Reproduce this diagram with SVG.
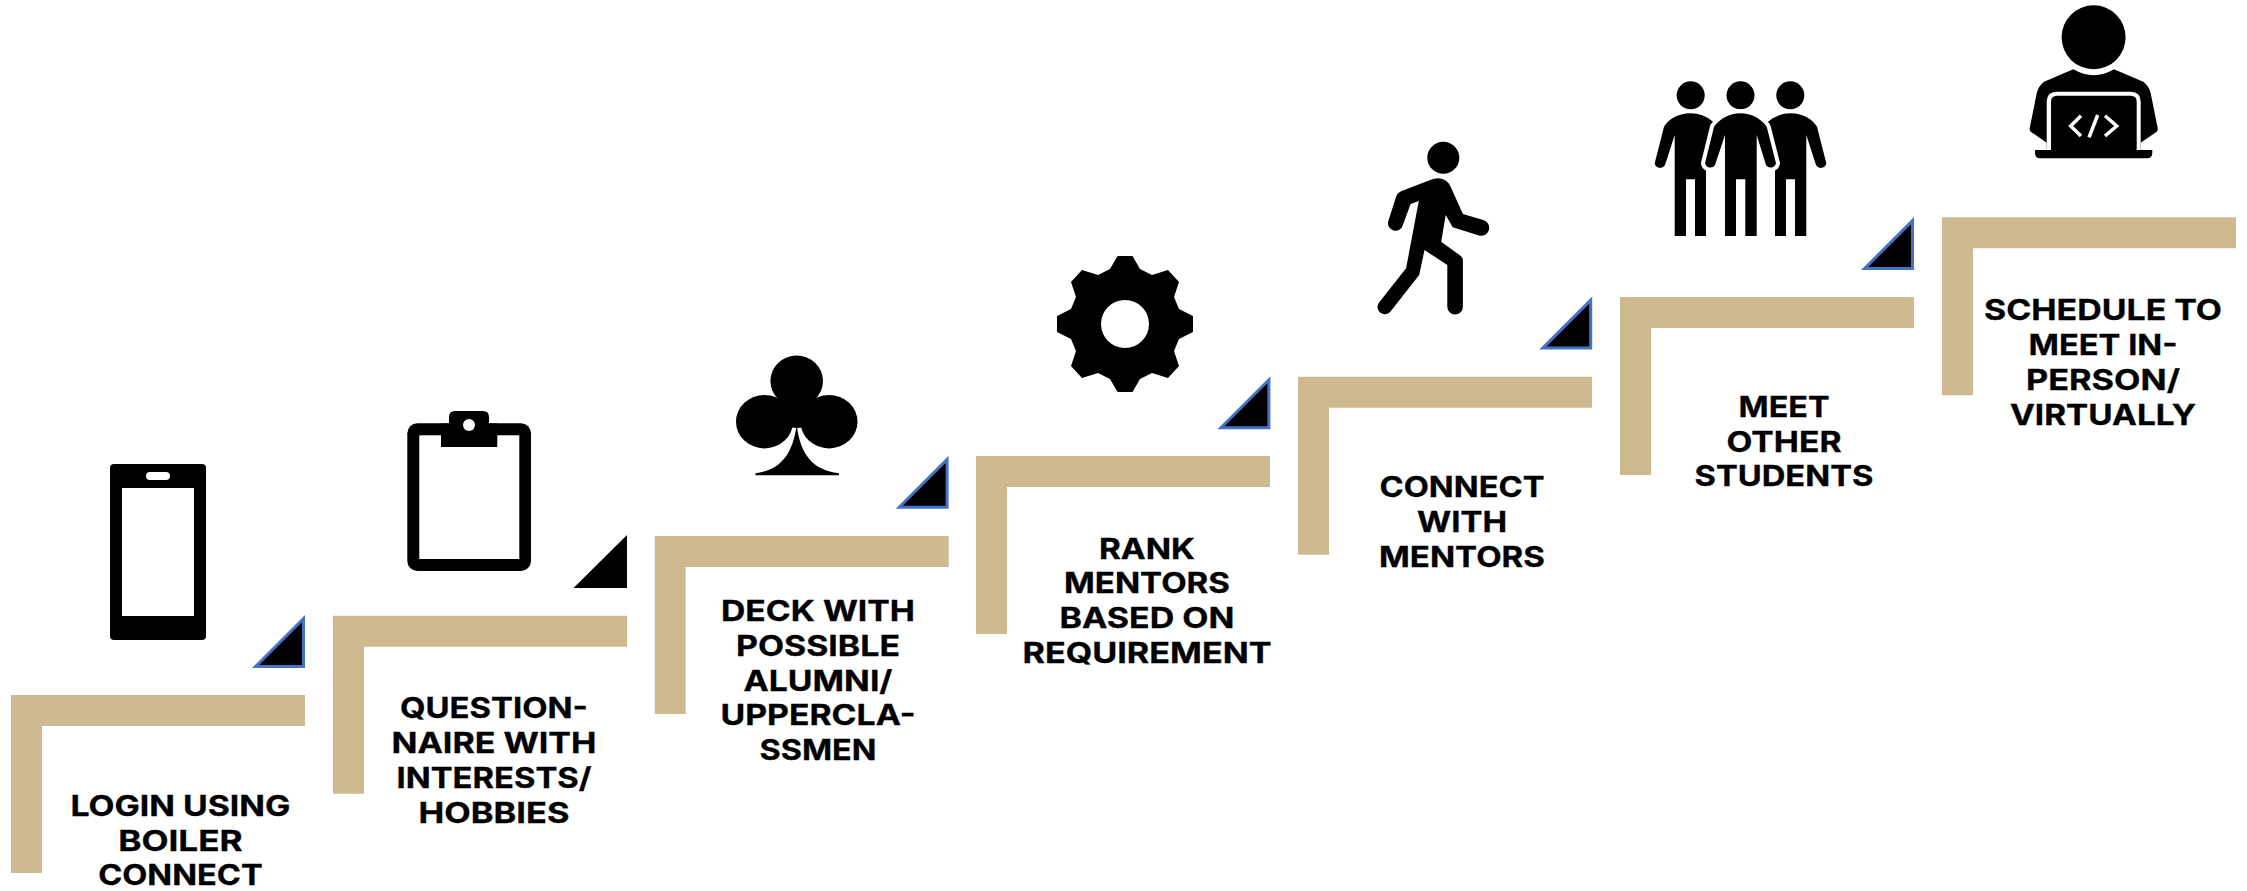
<svg xmlns="http://www.w3.org/2000/svg" width="2247" height="891" viewBox="0 0 2247 891">
<style>
.step{fill:#cfb991}
.tri{fill:#000;stroke:#4472c4;stroke-width:3}
.ico{fill:#000}
.wht{fill:#fff}
.lbl{font-family:"Inter","Liberation Sans",sans-serif;font-weight:700;font-size:28.5px;fill:#000;text-anchor:middle;stroke:#000;stroke-width:.3}
</style>
<defs>
<path id="stair" class="step" d="M0 0H294V31H31V178H0Z"/>
<path id="tr" d="M51.5 3.6V51.5H3.6Z"/>
</defs>
<rect width="2247" height="891" fill="#fff"/>
<g id="connectors">
<use href="#tr" class="tri" x="252" y="615"/>
<polygon points="627,535 627,588 573.5,588" fill="#000"/>
<use href="#tr" class="tri" x="895.6" y="455.8"/>
<use href="#tr" class="tri" x="1217.4" y="376.2"/>
<use href="#tr" class="tri" x="1539.2" y="296.6"/>
<use href="#tr" class="tri" x="1861" y="217"/>
</g>
<g id="step1"><use href="#stair" x="11" y="695"/>
<g class="ico"><rect x="110" y="464" width="96" height="176" rx="4"/><rect class="wht" x="122" y="488" width="72" height="128"/><rect class="wht" x="146" y="472" width="24" height="8" rx="4"/></g>
<text class="lbl"><tspan x="180.4" y="815.7" textLength="220" lengthAdjust="spacingAndGlyphs">LOGIN USING</tspan><tspan x="180.4" y="850.5" textLength="124.5" lengthAdjust="spacingAndGlyphs">BOILER</tspan><tspan x="180.4" y="885" textLength="164.5" lengthAdjust="spacingAndGlyphs">CONNECT</tspan></text></g>
<g id="step2"><use href="#stair" x="333" y="615.7"/>
<g class="ico"><rect x="407.3" y="423.3" width="123.7" height="147.7" rx="10"/><rect class="wht" x="419.3" y="435.3" width="100" height="123.7"/><path d="M441 423.5H449V417Q449 411 455 411H483Q489 411 489 417V423.5H497.3V447H441Z"/><circle class="wht" cx="469" cy="425" r="6"/></g>
<text class="lbl"><tspan x="494" y="717.7" textLength="188" lengthAdjust="spacingAndGlyphs">QUESTION-</tspan><tspan x="494" y="752.7" textLength="205" lengthAdjust="spacingAndGlyphs">NAIRE WITH</tspan><tspan x="494" y="787.7" textLength="195" lengthAdjust="spacingAndGlyphs">INTERESTS/</tspan><tspan x="494" y="822.7" textLength="151" lengthAdjust="spacingAndGlyphs">HOBBIES</tspan></text></g>
<g id="step3"><use href="#stair" x="654.7" y="536"/>
<g class="ico"><ellipse cx="796.7" cy="381" rx="26.3" ry="25.5"/><ellipse cx="764.5" cy="421.7" rx="28.5" ry="26.7"/><ellipse cx="829" cy="421.7" rx="28.5" ry="26.7"/><polygon points="780,392 813,392 830,425 797,428 763,425"/><path d="M796.7 424C793 455 780 470 755.5 473.3V475.3H839V473.3C813 470 800 455 796.7 424Z"/></g>
<text class="lbl"><tspan x="818" y="620.7" textLength="194" lengthAdjust="spacingAndGlyphs">DECK WITH</tspan><tspan x="818" y="655.5" textLength="164" lengthAdjust="spacingAndGlyphs">POSSIBLE</tspan><tspan x="818" y="690.5" textLength="149" lengthAdjust="spacingAndGlyphs">ALUMNI/</tspan><tspan x="818" y="725.3" textLength="195" lengthAdjust="spacingAndGlyphs">UPPERCLA-</tspan><tspan x="818" y="760.3" textLength="117" lengthAdjust="spacingAndGlyphs">SSMEN</tspan></text></g>
<g id="step4"><use href="#stair" x="976" y="456"/>
<g class="ico" transform="translate(1125 324)"><polygon points="7.5,-68 15,-55 27,-49 43,-54 54,-42 49,-27 54,-15 68,-8 68,8 54,15 49,27 54,42 43,54 27,49 15,55 7.5,68 -7.5,68 -15,55 -27,49 -43,54 -54,42 -49,27 -54,15 -68,8 -68,-8 -54,-15 -49,-27 -54,-42 -43,-54 -27,-49 -15,-55 -7.5,-68"/><circle class="wht" r="24"/></g>
<text class="lbl"><tspan x="1147" y="558.7" textLength="96" lengthAdjust="spacingAndGlyphs">RANK</tspan><tspan x="1147" y="593.3" textLength="166" lengthAdjust="spacingAndGlyphs">MENTORS</tspan><tspan x="1147" y="628.3" textLength="175" lengthAdjust="spacingAndGlyphs">BASED ON</tspan><tspan x="1147" y="663.3" textLength="249" lengthAdjust="spacingAndGlyphs">REQUIREMENT</tspan></text></g>
<g id="step5"><use href="#stair" x="1298" y="376.7"/>
<g class="ico"><circle cx="1443.3" cy="157.7" r="16"/><path d="M1401.6 191L1430.2 180Q1438 176.5 1445 180Q1449 182.5 1450.6 186.7L1462.9 214L1483.4 220A8 8 0 0 1 1479 235.4L1452.7 227.3L1445.7 215L1441.2 241.7L1460.8 256Q1462.9 258 1462.9 260V306.7A7.8 7.8 0 0 1 1447.3 306.7V265L1424.5 250L1419.2 275L1390.3 311.7A7.3 7.3 0 0 1 1378.7 302.9L1406.1 268.3L1418.8 201L1410.6 204L1402.8 225.2A7.5 7.5 0 0 1 1388.2 221.4L1396 197Q1397 193 1401.6 191Z"/></g>
<text class="lbl"><tspan x="1462" y="496.7" textLength="165" lengthAdjust="spacingAndGlyphs">CONNECT</tspan><tspan x="1462" y="531.7" textLength="90" lengthAdjust="spacingAndGlyphs">WITH</tspan><tspan x="1462" y="566.7" textLength="166" lengthAdjust="spacingAndGlyphs">MENTORS</tspan></text></g>
<g id="step6"><use href="#stair" x="1620" y="297"/>
<g class="ico"><circle cx="1690.7" cy="95.3" r="14"/><circle cx="1740.5" cy="95.3" r="14"/><circle cx="1790.3" cy="95.3" r="14"/>
<path id="sideP" d="M1690.7 113.3C1677 113.3 1668 120 1664 126.7L1654.7 163.3A5.5 5.5 0 0 0 1665 165L1674.7 135V236H1686V179.3H1695V236H1706V165L1720 135L1713 121.7Q1703 113.3 1690.7 113.3Z"/>
<use href="#sideP" transform="translate(3481 0) scale(-1 1)"/>
<path d="M1740.5 113.3C1752 113.3 1761 119 1766.7 126.7L1776 163.3A5.5 5.5 0 0 1 1766 165L1756.7 135V236H1745.3V179.3H1736V236H1725V135L1715 165A5.5 5.5 0 0 1 1705 163.3L1714 126.7C1720 119 1729 113.3 1740.5 113.3Z" stroke="#fff" stroke-width="8" paint-order="stroke" stroke-linejoin="round"/></g>
<text class="lbl"><tspan x="1784" y="416.7" textLength="91" lengthAdjust="spacingAndGlyphs">MEET</tspan><tspan x="1784" y="451.5" textLength="115" lengthAdjust="spacingAndGlyphs">OTHER</tspan><tspan x="1784" y="486" textLength="179" lengthAdjust="spacingAndGlyphs">STUDENTS</tspan></text></g>
<g id="step7"><use href="#stair" x="1942" y="217.3"/>
<g class="ico"><circle cx="2093.6" cy="37.3" r="32"/><path d="M2073.3 69.3Q2094 81 2114 69.3L2143.3 81.7Q2149 86 2150.7 93.3L2157.7 128.3Q2158 130 2156.7 131.7L2140.7 142.7V150H2046.7V142.7L2030.7 131.7Q2029.4 130 2029.7 128.3L2036.7 93.3Q2038.4 86 2044 81.7Z"/><path class="wht" d="M2046.7 152V101.7Q2046.7 91.7 2056.7 91.7H2130.7Q2140.7 91.7 2140.7 101.7V152Z"/><path d="M2051 150V101.7Q2051 95.7 2057 95.7H2130.7Q2136.7 95.7 2136.7 101.7V150Z"/><path d="M2035 150H2152.3V153Q2152.3 158.3 2147 158.3H2040Q2035 158.3 2035 153Z"/>
<path d="M2081 115.7L2070.7 126L2081 136M2097.7 115L2089 137.3M2105 115.7L2116.7 126L2105 136" fill="none" stroke="#fff" stroke-width="3.5"/></g>
<text class="lbl"><tspan x="2103" y="320" textLength="238" lengthAdjust="spacingAndGlyphs">SCHEDULE TO</tspan><tspan x="2103" y="355" textLength="149" lengthAdjust="spacingAndGlyphs">MEET IN-</tspan><tspan x="2103" y="390" textLength="154" lengthAdjust="spacingAndGlyphs">PERSON/</tspan><tspan x="2103" y="424.5" textLength="186" lengthAdjust="spacingAndGlyphs">VIRTUALLY</tspan></text></g>
</svg>
